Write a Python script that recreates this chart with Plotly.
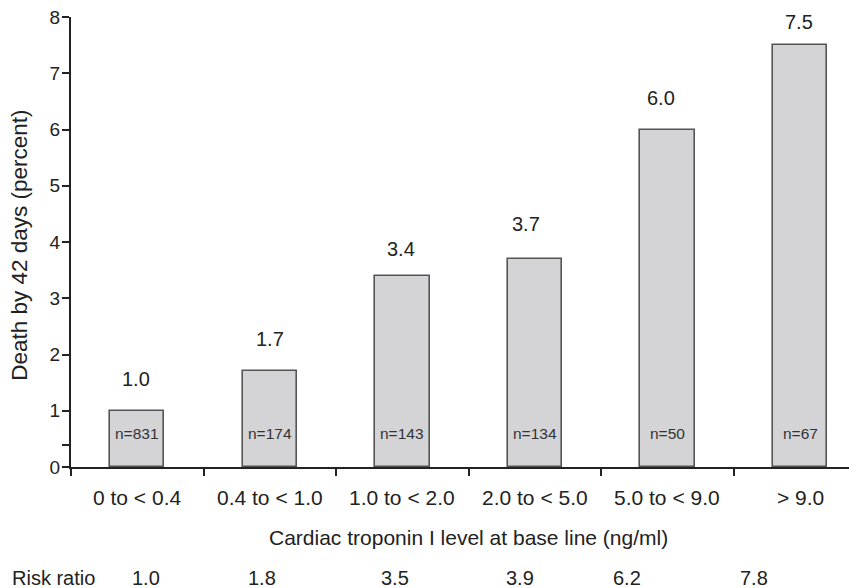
import plotly.graph_objects as go

categories = ["0 to < 0.4", "0.4 to < 1.0", "1.0 to < 2.0", "2.0 to < 5.0", "5.0 to < 9.0", "> 9.0"]
death_pct = [1.0, 1.7, 3.4, 3.7, 6.0, 7.5]
n_counts = [831, 174, 143, 134, 50, 67]
risk_ratios = ["1.0", "1.8", "3.5", "3.9", "6.2", "7.8"]
y_ticks = [0, 1, 2, 3, 4, 5, 6, 7, 8]

# label placement offsets (pixels)
value_label_dy = [32, 32, 27, 35, 32, 23]
value_label_dx = [-1, 0, -1, -9, -6, -1]
rr_dx = [9, -8, -7, -15, -40, -46]

FONT = "Liberation Sans, Arial, sans-serif"
NARROW = "Liberation Sans Narrow, Arial Narrow, Liberation Sans, sans-serif"
TXT = "#222222"
xs = list(range(len(categories)))

fig = go.Figure()
fig.add_trace(go.Bar(
    x=xs, y=death_pct, width=0.41,
    marker=dict(color="#d4d4d6", line=dict(color="#555555", width=1.6)),
    hoverinfo="skip", showlegend=False,
))

ann = []
for x, v, dy, dx in zip(xs, death_pct, value_label_dy, value_label_dx):
    ann.append(dict(x=x, y=v, xref="x", yref="y", text=f"{v:.1f}", showarrow=False,
                    yshift=dy, xshift=dx, font=dict(family=FONT, size=20, color=TXT)))
for x, n in zip(xs, n_counts):
    ann.append(dict(x=x, y=0.6, xref="x", yref="y", text=f"n={n}", showarrow=False,
                    font=dict(family=NARROW, size=15.5, color="#333")))
for x, c in zip(xs, categories):
    ann.append(dict(x=x, y=0, xref="x", yref="y", text=c, showarrow=False,
                    yshift=-30, font=dict(family=FONT, size=21, color=TXT)))
ann.append(dict(x=2.5, y=0, xref="x", yref="y", text="Cardiac troponin I level at base line (ng/ml)",
                showarrow=False, yshift=-70, font=dict(family=FONT, size=21, color=TXT)))
ann.append(dict(x=-0.0776, y=0, xref="paper", yref="y", xanchor="left", text="Risk ratio",
                showarrow=False, yshift=-111, font=dict(family=FONT, size=20, color=TXT)))
for x, r, s in zip(xs, risk_ratios, rr_dx):
    ann.append(dict(x=x, y=0, xref="x", yref="y", text=r, showarrow=False,
                    yshift=-111, xshift=s, font=dict(family=FONT, size=20, color=TXT)))
ann.append(dict(x=-0.0649, y=3.95, xref="paper", yref="y", xanchor="center", yanchor="middle",
                textangle=-90, text="Death by 42 days (percent)", showarrow=False,
                font=dict(family=FONT, size=22.5, color=TXT)))

# page body has an 8px margin; margins compensate so the plot lands where the reference has it
fig.update_layout(
    width=857, height=588,
    margin=dict(l=63, r=8, t=9, b=129, autoexpand=False),
    paper_bgcolor="white", plot_bgcolor="white",
    bargap=0,
    annotations=ann,
    xaxis=dict(range=[-0.5, 5.43], tickvals=[-0.5, 0.5, 1.5, 2.5, 3.5, 4.5], ticktext=[""] * 6,
               ticks="outside", ticklen=7, tickwidth=2, tickcolor=TXT, automargin=False,
               showline=True, linecolor=TXT, linewidth=2, showgrid=False, zeroline=False),
    yaxis=dict(range=[0, 8], tickvals=y_ticks, ticks="outside", ticklen=7, tickwidth=2,
               tickcolor=TXT, showline=True, linecolor=TXT, linewidth=2, automargin=False,
               showgrid=False, zeroline=False, ticklabeloverflow="allow",
               ticklabelstandoff=-2,
               tickfont=dict(family=FONT, size=19, color=TXT),
               minor=dict(tickvals=[0.4], ticks="outside", ticklen=7, tickwidth=2, tickcolor=TXT)),
)
fig.write_html("out.html")
